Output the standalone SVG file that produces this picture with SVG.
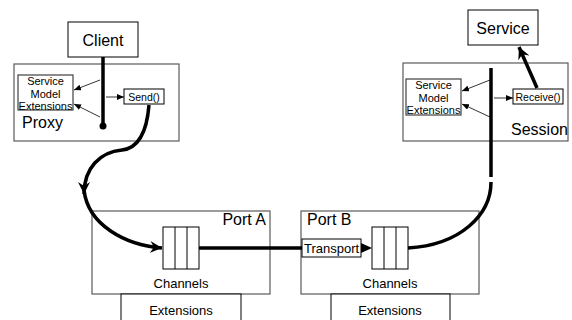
<svg xmlns="http://www.w3.org/2000/svg" width="572" height="320" viewBox="0 0 572 320">
<defs>
<style>
text{font-family:"Liberation Sans",Arial,sans-serif;fill:#000}
.big{font-size:16px}
.mid{font-size:13px}
.sm{font-size:10.5px}
.sme{font-size:11px}
.box{fill:#fff;stroke:#000;stroke-width:1}
.gbox{fill:#fff;stroke:#5a5a5a;stroke-width:1.2}
.sbox{fill:#fff;stroke:#404040;stroke-width:1.2}
.thick{fill:none;stroke:#000;stroke-width:3.5}
.thin{fill:none;stroke:#000;stroke-width:0.8}
</style>
<marker id="big" markerUnits="userSpaceOnUse" markerWidth="14" markerHeight="12" refX="12" refY="6" orient="auto">
<path d="M0,0 L12,6 L0,12 L4,6 Z" fill="#000"/>
</marker>
<marker id="small" markerUnits="userSpaceOnUse" markerWidth="8" markerHeight="6" refX="7" refY="3" orient="auto">
<path d="M0,0 L7,3 L0,6 Z" fill="#000"/>
</marker>
</defs>

<g id="proxy">
<rect class="gbox" x="14" y="64" width="165" height="77"/>
<text class="big" x="22" y="128">Proxy</text>
</g>
<g id="session">
<rect class="gbox" x="403" y="63" width="165" height="78"/>
<text class="big" x="511" y="135">Session</text>
</g>
<g id="client">
<rect class="box" x="68" y="22" width="70" height="35"/>
<text class="big" x="103" y="46" text-anchor="middle">Client</text>
</g>
<g id="service">
<rect class="box" x="468" y="10" width="70" height="35"/>
<text class="big" x="503" y="34" text-anchor="middle">Service</text>
</g>
<g id="sme-left">
<rect class="sbox" x="18" y="75" width="55" height="35"/>
<text class="sme" x="45.5" y="85" text-anchor="middle">Service</text>
<text class="sme" x="45.5" y="97.5" text-anchor="middle">Model</text>
<text class="sme" x="45.5" y="109.5" text-anchor="middle">Extensions</text>
</g>
<g id="sme-right">
<rect class="sbox" x="406" y="79" width="55" height="36"/>
<text class="sme" x="433.5" y="89" text-anchor="middle">Service</text>
<text class="sme" x="433.5" y="101.5" text-anchor="middle">Model</text>
<text class="sme" x="433.5" y="114" text-anchor="middle">Extensions</text>
</g>
<g id="send">
<rect class="box" x="124" y="89" width="40" height="15"/>
<text class="sm" x="144" y="100.5" text-anchor="middle">Send()</text>
</g>
<g id="receive">
<rect class="box" x="513" y="89" width="50" height="15"/>
<text class="sm" x="538" y="100.5" text-anchor="middle">Receive()</text>
</g>
<g id="port-a">
<rect class="gbox" x="92" y="211" width="178" height="83"/>
<text class="big" x="266" y="225" text-anchor="end">Port A</text>
<text class="mid" x="181" y="288" text-anchor="middle">Channels</text>
</g>
<g id="ext-a">
<rect class="box" x="121" y="294" width="120" height="30"/>
<text class="mid" x="181" y="315" text-anchor="middle">Extensions</text>
</g>
<g id="channels-a">
<rect class="box" x="163" y="227" width="36" height="42"/>
<line class="thin" x1="175" y1="227" x2="175" y2="269" style="stroke-width:1"/>
<line class="thin" x1="187" y1="227" x2="187" y2="269" style="stroke-width:1"/>
</g>
<g id="port-b">
<rect class="gbox" x="301" y="211" width="178" height="83"/>
<text class="big" x="307" y="225">Port B</text>
<text class="mid" x="390" y="288" text-anchor="middle">Channels</text>
</g>
<g id="ext-b">
<rect class="box" x="331" y="294" width="119" height="30"/>
<text class="mid" x="390" y="315" text-anchor="middle">Extensions</text>
</g>
<g id="transport">
<rect class="box" x="302" y="239" width="59" height="18"/>
<text class="mid" x="331.5" y="253" text-anchor="middle">Transport</text>
</g>
<g id="channels-b">
<rect class="box" x="372" y="227" width="36" height="42"/>
<line class="thin" x1="384" y1="227" x2="384" y2="269" style="stroke-width:1"/>
<line class="thin" x1="396" y1="227" x2="396" y2="269" style="stroke-width:1"/>
</g>

<g id="connectors">
<line class="thick" x1="103" y1="57" x2="103" y2="126"/>
<circle cx="103" cy="126" r="3.5" fill="#000"/>
<line class="thin" x1="100" y1="80" x2="74" y2="90" marker-end="url(#small)"/>
<line class="thin" x1="100" y1="117" x2="74" y2="104" marker-end="url(#small)"/>
<line class="thin" x1="106" y1="97" x2="124" y2="97" marker-end="url(#small)"/>
<path class="thick" d="M149,105 C147,130 140,148 122,150 C100,152 84,168 84,194" marker-end="url(#big)"/>
<path class="thick" d="M84,190 C88,225 125,245 162,248" marker-end="url(#big)"/>
<line class="thick" x1="199" y1="248" x2="302" y2="248"/>
<polygon points="361,243 372,248 361,253" fill="#000"/>
<path class="thick" d="M408,248 C460,245 491,215 491,182"/>
<line class="thick" x1="491" y1="68" x2="491" y2="177"/>
<line class="thin" x1="490" y1="80" x2="462" y2="91" marker-end="url(#small)"/>
<line class="thin" x1="490" y1="117" x2="462" y2="104" marker-end="url(#small)"/>
<line class="thin" x1="494" y1="98" x2="513" y2="98" marker-end="url(#small)"/>
<line class="thick" x1="537" y1="88" x2="519" y2="47" marker-end="url(#big)"/>
</g>
</svg>
